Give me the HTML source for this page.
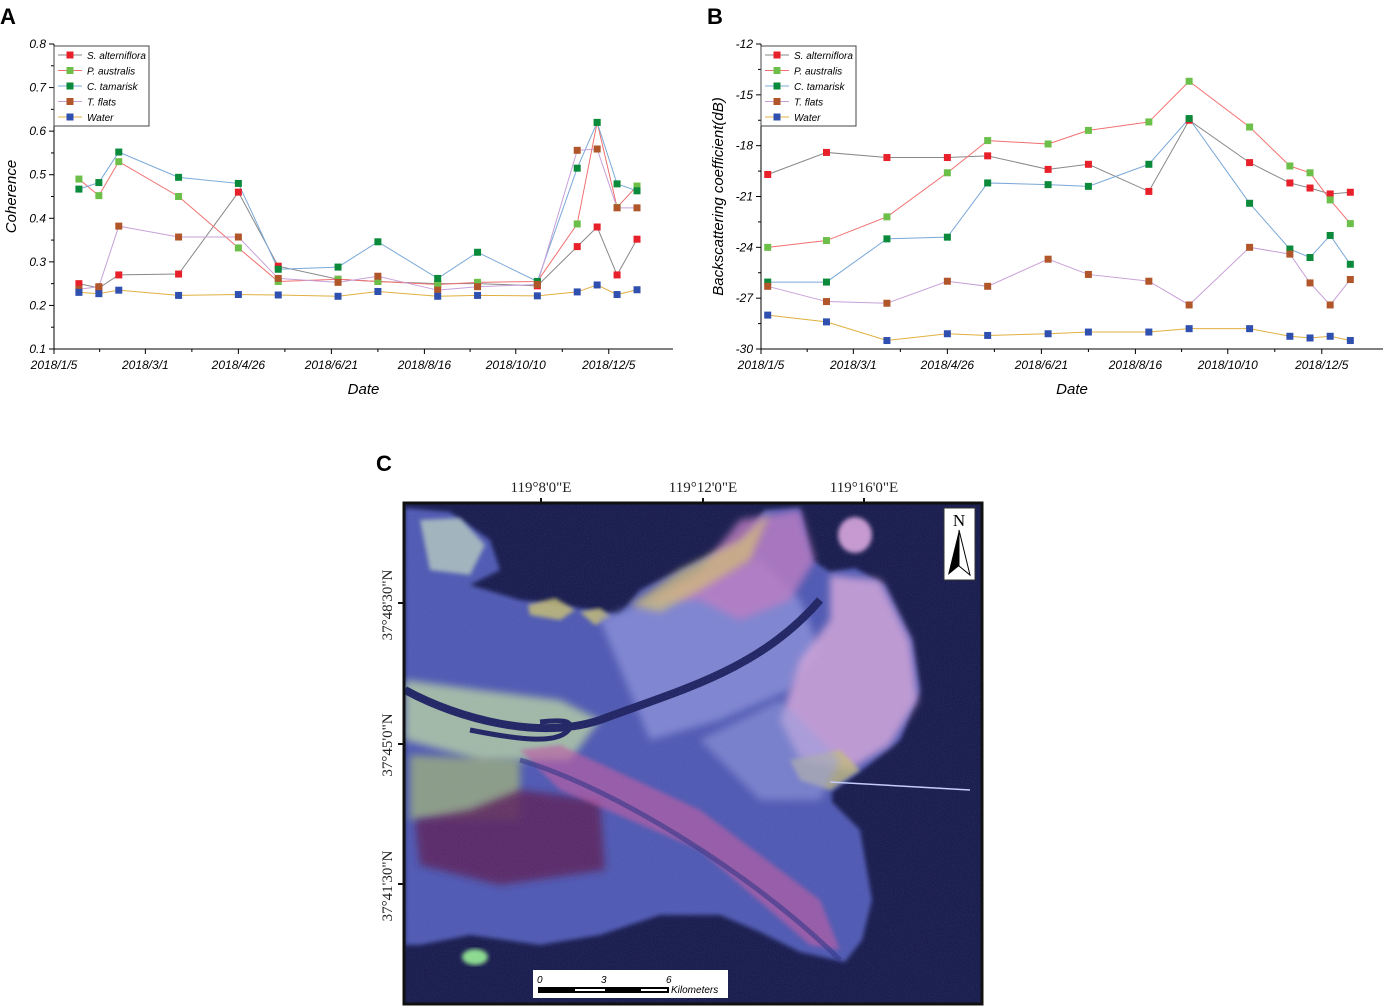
<!DOCTYPE html>
<html><head><meta charset="utf-8"><style>
body{margin:0;background:#fff;width:1384px;height:1008px;overflow:hidden;font-family:"Liberation Sans",sans-serif}
svg{position:absolute;left:0;top:0}
</style></head><body>
<svg id="chart" width="1384" height="1008" xmlns="http://www.w3.org/2000/svg">
<defs>
<filter id="blur2"><feGaussianBlur stdDeviation="2"/></filter>
<filter id="blur4"><feGaussianBlur stdDeviation="4"/></filter>
<filter id="noise"><feTurbulence type="fractalNoise" baseFrequency="0.9" numOctaves="1" result="n"/><feColorMatrix type="matrix" values="0 0 0 0 0.35  0 0 0 0 0.35  0 0 0 0 0.7  0 0 0 0.3 0"/></filter>
<clipPath id="mapclip"><rect x="405" y="504" width="576" height="499"/></clipPath>
</defs>
<g id="panelA"></g>
<g id="panelB"></g>
<g id="panelC">
<text x="376" y="471" font-size="22" font-weight="bold">C</text>
<g font-family="Liberation Serif,serif" font-size="15" fill="#222">
<text x="541" y="492" text-anchor="middle">119°8'0"E</text>
<text x="703" y="492" text-anchor="middle">119°12'0"E</text>
<text x="864" y="492" text-anchor="middle">119°16'0"E</text>
<text transform="translate(392,605) rotate(-90)" text-anchor="middle">37°48'30"N</text>
<text transform="translate(392,745) rotate(-90)" text-anchor="middle">37°45'0"N</text>
<text transform="translate(392,886) rotate(-90)" text-anchor="middle">37°41'30"N</text>
</g>
<g clip-path="url(#mapclip)">
<rect x="404" y="503" width="578" height="501" fill="#111545"/>
<polygon filter="url(#blur2)" fill="#4c56b0" points="405,508 450,512 490,540 500,570 470,585 520,600 560,605 620,615 640,590 700,560 740,540 765,510 800,508 812,560 830,572 855,568 885,585 912,640 920,690 900,740 862,770 832,792 832,802 860,830 872,900 862,940 845,962 800,952 760,932 720,915 660,915 600,935 540,945 470,935 420,945 405,945"/>
<polygon filter="url(#blur2)" fill="#c8c070" opacity="0.85" points="528,605 555,598 575,610 560,620 530,615"/>
<polygon filter="url(#blur2)" fill="#c8c070" opacity="0.85" points="580,612 600,608 612,618 595,625"/>
<polygon filter="url(#blur4)" fill="#7e84d0" points="600,620 700,580 760,560 800,600 820,650 790,690 720,720 650,740"/>
<polygon filter="url(#blur4)" fill="#c07ac0" opacity="0.8" points="740,520 800,510 815,560 790,600 740,620 700,600 650,600 700,570"/>
<polygon filter="url(#blur4)" fill="#d9c46a" opacity="0.7" points="630,605 680,570 740,540 770,512 750,560 700,590 660,612"/>
<polygon filter="url(#blur4)" fill="#d6a6d8" opacity="0.85" points="830,575 880,580 910,640 918,700 890,745 850,770 800,760 780,720 800,660 830,620"/>
<polygon filter="url(#blur2)" fill="#c8c070" opacity="0.75" points="790,760 840,750 860,770 830,790 800,780"/>
<polygon filter="url(#blur4)" fill="#c8e6a0" opacity="0.7" points="405,680 480,690 560,700 600,720 570,760 480,760 405,740"/>
<polygon filter="url(#blur4)" fill="#c0d860" opacity="0.55" points="410,755 520,760 520,820 410,820"/>
<polygon filter="url(#blur4)" fill="#5a1a55" opacity="0.85" points="415,820 470,810 520,790 600,800 605,870 500,885 420,865"/>
<polygon filter="url(#blur2)" fill="#c05aa0" opacity="0.65" points="520,750 560,745 700,810 820,900 840,950 810,945 700,850 560,790"/>
<polygon filter="url(#blur4)" fill="#9aa0e0" opacity="0.55" points="700,740 780,700 840,760 820,800 760,800"/>
<polygon filter="url(#blur2)" fill="#c8e0c0" opacity="0.7" points="420,520 460,518 485,545 470,575 430,570"/>
<path d="M405,690 C460,720 540,740 600,720 C680,690 760,670 820,600" stroke="#1a1e5c" stroke-width="8" fill="none"/>
<path d="M470,730 C520,740 560,745 570,728 C572,720 560,720 540,722" stroke="#1a1e5c" stroke-width="5" fill="none"/>
<path d="M520,760 C620,790 760,880 840,960" stroke="#2b2f80" stroke-width="5" fill="none" opacity="0.6"/>
<ellipse cx="855" cy="535" rx="17" ry="18" fill="#c99ad0" filter="url(#blur2)"/>
<ellipse cx="475" cy="957" rx="13" ry="8" fill="#8be08a" filter="url(#blur2)"/>
<line x1="830" y1="782" x2="970" y2="790" stroke="#c8d0ff" stroke-width="1.5"/>
<rect x="405" y="504" width="576" height="499" filter="url(#noise)" opacity="0.6"/>
</g>
<rect x="404" y="503" width="578" height="501" fill="none" stroke="#111" stroke-width="3"/>
<g stroke="#111" stroke-width="2"><line x1="541" y1="498" x2="541" y2="504"/><line x1="703" y1="498" x2="703" y2="504"/><line x1="864" y1="498" x2="864" y2="504"/><line x1="398" y1="603" x2="404" y2="603"/><line x1="398" y1="744" x2="404" y2="744"/><line x1="398" y1="884" x2="404" y2="884"/></g>
<g>
<rect x="944" y="508" width="31" height="72" fill="#fff" stroke="#333"/>
<text x="959" y="526" font-size="17" text-anchor="middle" font-family="Liberation Serif,serif">N</text>
<polygon points="959,530 948,575 959,566" fill="#000"/><polygon points="959,530 970,575 959,566" fill="#fff" stroke="#000"/>
</g>
<g>
<rect x="533" y="970" width="195" height="28" fill="#fff"/>
<text x="537" y="983" font-size="10" font-style="italic">0</text>
<text x="601" y="983" font-size="10" font-style="italic">3</text>
<text x="666" y="983" font-size="10" font-style="italic">6</text>
<rect x="538" y="987" width="131" height="6" fill="#000"/>
<rect x="575" y="989" width="30" height="2" fill="#fff"/><rect x="641" y="989" width="26" height="2" fill="#fff"/>
<text x="671" y="993" font-size="10" font-style="italic">Kilometers</text>
</g>
</g>
</svg>
<script>
const NS="http://www.w3.org/2000/svg";
const seriesNames=["S. alterniflora","P. australis","C. tamarisk","T. flats","Water"];
const markerColors=["#e8202a","#6cc04a","#0a8a3a","#b0562a","#3050b0"];
const lineColors=["#888888","#f07070","#7aa8d8","#c8a0d8","#e0b040"];
const tickLabels=["2018/1/5","2018/3/1","2018/4/26","2018/6/21","2018/8/16","2018/10/10","2018/12/5"];
const tickDays=[0,55,111,167,223,278,334];
const daysA=[15,27,39,75,111,135,171,195,231,255,291,315,327,339,351];
const cohS=[0.25,0.24,0.27,0.272,0.46,0.29,0.26,0.255,0.25,0.25,0.245,0.335,0.38,0.27,0.352];
const cohP=[0.49,0.452,0.53,0.45,0.332,0.255,0.26,0.255,0.248,0.253,0.255,0.387,0.62,0.425,0.474];
const cohC=[0.467,0.482,0.552,0.494,0.48,0.283,0.288,0.346,0.262,0.322,0.255,0.515,0.62,0.479,0.463];
const cohT=[0.237,0.243,0.382,0.357,0.357,0.262,0.253,0.267,0.235,0.243,0.248,0.556,0.559,0.424,0.424];
const cohW=[0.23,0.227,0.235,0.223,0.225,0.224,0.221,0.232,0.221,0.223,0.222,0.231,0.247,0.225,0.236];
const ticksA=[0.1,0.2,0.3,0.4,0.5,0.6,0.7,0.8];
const daysB=[4,39,75,111,135,171,195,231,255,291,315,327,339,351];
const bsS=[-19.7,-18.4,-18.7,-18.7,-18.6,-19.4,-19.1,-20.7,-16.5,-19.0,-20.2,-20.5,-20.85,-20.75];
const bsP=[-24.0,-23.6,-22.2,-19.6,-17.7,-17.9,-17.1,-16.6,-14.2,-16.9,-19.2,-19.6,-21.2,-22.6];
const bsC=[-26.05,-26.05,-23.5,-23.4,-20.2,-20.3,-20.4,-19.1,-16.4,-21.4,-24.1,-24.6,-23.3,-25.0];
const bsT=[-26.3,-27.2,-27.3,-26.0,-26.3,-24.7,-25.6,-26.0,-27.4,-24.0,-24.4,-26.1,-27.4,-25.9];
const bsW=[-28.0,-28.4,-29.5,-29.1,-29.2,-29.1,-29.0,-29.0,-28.8,-28.8,-29.25,-29.35,-29.25,-29.5];
const ticksB=[-30,-27,-24,-21,-18,-15,-12];
function mk(tag,attrs,parent,txt){const e=document.createElementNS(NS,tag);for(const k in attrs)e.setAttribute(k,attrs[k]);if(txt!==undefined)e.textContent=txt;parent.appendChild(e);return e;}
function panel(g,cfg){
  const xs=d=>cfg.x0+d*cfg.pxDay;
  const ys=v=>cfg.yTop+(cfg.vmax-v)/(cfg.vmax-cfg.vmin)*(cfg.yBot-cfg.yTop);
  const lab=mk('text',{x:cfg.x0-54,y:24,'font-size':22,'font-weight':'bold'},g,cfg.letter);
  
  
  mk('line',{x1:cfg.x0,y1:cfg.yTop,x2:cfg.x0,y2:cfg.yBot,stroke:'#000'},g);
  mk('line',{x1:cfg.x0,y1:cfg.yBot,x2:cfg.xEnd,y2:cfg.yBot,stroke:'#000'},g);
  cfg.ticks.forEach((t,i)=>{const y=ys(t);mk('line',{x1:cfg.x0-5,y1:y,x2:cfg.x0,y2:y,stroke:'#000'},g);
    if(i<cfg.ticks.length-1){const y2=(y+ys(cfg.ticks[i+1]))/2;mk('line',{x1:cfg.x0-3,y1:y2,x2:cfg.x0,y2:y2,stroke:'#000'},g);}
    const tl=mk('text',{x:cfg.x0-8,y:y+4,'font-size':12,'font-style':'italic','text-anchor':'end'},g,cfg.fmt(t));
    
    });
  tickLabels.forEach((t,i)=>{const x=xs(tickDays[i]);mk('line',{x1:x,y1:cfg.yBot,x2:x,y2:cfg.yBot+5,stroke:'#000'},g);
    if(i<tickLabels.length-1){const xm=xs((tickDays[i]+tickDays[i+1])/2);mk('line',{x1:xm,y1:cfg.yBot,x2:xm,y2:cfg.yBot+3,stroke:'#000'},g);}
    const tl=mk('text',{x:x,y:cfg.yBot+20,'font-size':12,'font-style':'italic','text-anchor':'middle'},g,t);
    
    });
  const xt=mk('text',{x:(cfg.x0+cfg.xEnd)/2,y:cfg.yBot+45,'font-size':15,'font-style':'italic','text-anchor':'middle'},g,'Date');
  
  
  const yt=mk('text',{transform:`translate(${cfg.x0-38},${(cfg.yTop+cfg.yBot)/2}) rotate(-90)`,'font-size':15,'font-style':'italic','text-anchor':'middle'},g,cfg.ytitle);
  
  
  cfg.series.forEach((vals,si)=>{
    const pts=vals.map((v,i)=>xs(cfg.days[i])+','+ys(v)).join(' ');
    const pl=mk('polyline',{points:pts,fill:'none',stroke:lineColors[si],'stroke-width':1},g);
    
    
  });
  cfg.series.forEach((vals,si)=>{vals.forEach((v,i)=>{
    const r=mk('rect',{x:xs(cfg.days[i])-3.5,y:ys(v)-3.5,width:7,height:7,fill:markerColors[si]},g);
    
    
  });});
  const lg=mk('g',{},g);
  
  
  mk('rect',{x:cfg.x0,y:cfg.yTop+2,width:cfg.legW,height:80,fill:'#fff',stroke:'#444'},lg);
  seriesNames.forEach((n,i)=>{const y=cfg.yTop+11+i*15.5;
    mk('line',{x1:cfg.x0+4,y1:y,x2:cfg.x0+28,y2:y,stroke:lineColors[i]},lg);
    mk('rect',{x:cfg.x0+12.5,y:y-3.5,width:7,height:7,fill:markerColors[i]},lg);
    const t=mk('text',{x:cfg.x0+33,y:y+4,'font-size':10,'font-style':'italic'},lg,n);
    
    });
}
panel(document.getElementById('panelA'),{letter:'A',x0:54,xEnd:673,pxDay:1.661,yTop:44,yBot:349,vmin:0.1,vmax:0.8,ticks:ticksA,fmt:v=>v.toFixed(1),ytitle:'Coherence',days:daysA,legW:95,series:[cohS,cohP,cohC,cohT,cohW]});
panel(document.getElementById('panelB'),{letter:'B',x0:761,xEnd:1383,pxDay:1.679,yTop:44,yBot:349,vmin:-30,vmax:-12,ticks:ticksB,fmt:v=>String(v),ytitle:'Backscattering coefficient(dB)',days:daysB,legW:95,series:[bsS,bsP,bsC,bsT,bsW]});
</script>
</body></html>
